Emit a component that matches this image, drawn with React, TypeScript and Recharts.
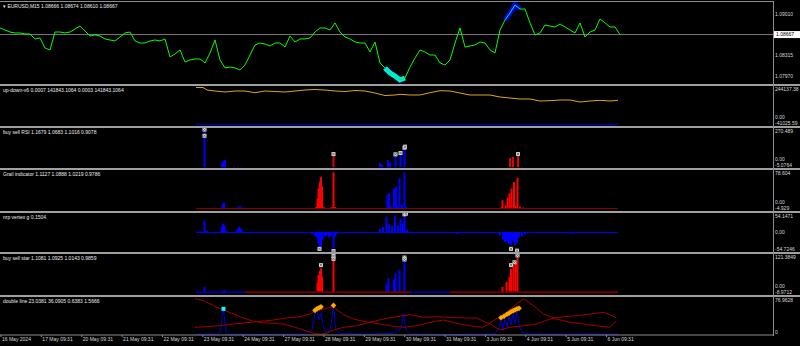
import React from "react";
import { ComposedChart, Line, Bar, Scatter, XAxis, YAxis, ReferenceLine } from "recharts";

// x runs in "slots" of roughly 3 trading hours, the window shows 0..X_MAX
const X_MAX = 154.6;
const FIRST_DAY = 0.2;
const DAY_SLOTS = 8.074;

const dayLabels = [
  "16 May 2024", "17 May 09:31", "20 May 09:31", "21 May 09:31", "22 May 09:31",
  "23 May 09:31", "24 May 09:31", "27 May 09:31", "28 May 09:31", "29 May 09:31",
  "30 May 09:31", "31 May 09:31", "3 Jun 09:31", "4 Jun 09:31", "5 Jun 09:31", "6 Jun 09:31",
];

// EURUSD M15 close, one value per slot
const price = [
  1.08778, 1.08744, 1.0871, 1.08694, 1.08694, 1.08677, 1.08677, 1.08593, 1.08609, 1.08441,
  1.08408, 1.0871, 1.0871, 1.08694, 1.0871, 1.08761, 1.08811, 1.08727, 1.08643, 1.0866,
  1.08643, 1.08593, 1.08576, 1.08559, 1.08626, 1.08694, 1.0871, 1.08559, 1.08525, 1.08525,
  1.08559, 1.08576, 1.08559, 1.08593, 1.0829, 1.0834, 1.08408, 1.08206, 1.08239, 1.08256,
  1.08256, 1.08189, 1.08357, 1.08576, 1.08239, 1.08105, 1.08121, 1.08105, 1.08071, 1.08155,
  1.08323, 1.08492, 1.08525, 1.08508, 1.08475, 1.08525, 1.08525, 1.08458, 1.08643, 1.08542,
  1.08593, 1.08593, 1.08609, 1.0871, 1.08778, 1.08778, 1.08744, 1.08862, 1.0871, 1.08626,
  1.08593, 1.08542, 1.08525, 1.08525, 1.08374, 1.08542, 1.08189, 1.08105, 1.0802, 1.0797,
  1.07903, 1.07936, 1.08121, 1.08273, 1.08408, 1.08374, 1.08323, 1.08323, 1.08189, 1.08155,
  1.08239, 1.08525, 1.08778, 1.08458, 1.08475, 1.08492, 1.08542, 1.08525, 1.08408, 1.08357,
  1.08744, 1.08912, 1.0903, 1.09165, 1.09097, 1.09097, 1.08862, 1.0866, 1.08694, 1.08828,
  1.08811, 1.08795, 1.08845, 1.08795, 1.08744, 1.08694, 1.08862, 1.08626, 1.0871, 1.08744,
  1.08929, 1.08862, 1.08795, 1.08795, 1.08667,
];
const sellZone = [77, 81]; // cyan arrows
const buyZone = [101, 104]; // blue arrows
const lastPrice = 1.08667;
const priceAxis: [number, string][] = [[1.0901, "1.09010"], [1.08315, "1.08315"], [1.0797, "1.07970"]];

type Pt = [number, number];

// up-down-v6
const upDownMain: Pt[] = [
  [39.2, 233443], [40.6, 233443], [41.4, 215621], [43, 208492], [45, 201363], [47, 208492],
  [49, 208492], [51, 196373], [53, 208492], [55, 204928], [57, 201363], [59, 208492],
  [61, 215621], [63, 219186], [65, 215621], [67, 208492], [69, 204928], [71, 212057],
  [73, 208492], [75, 194234], [77, 176412], [79, 179976], [80, 184966], [82, 179976],
  [84, 179976], [86, 196373], [88, 210631], [90, 208492], [92, 194234], [94, 179976],
  [96, 179976], [98, 179976], [100, 165718], [102, 158589], [104, 151460], [106, 151460],
  [108, 137202], [110, 139341], [112, 144331], [114, 144331], [116, 130073], [118, 137202],
  [120, 142192], [122, 137202], [123.6, 141843],
];
const upDownSignal: Pt[] = [[39.2, -30300], [123.6, -30300]];
const upDownAxis: [number, string][] = [[244137.38, "244137.38"], [0, "0.00"], [-41025.59, "-41025.59"]];

// buy sell RSI
const rsiBuy: Pt[] = [
  [40.9, 250], [44.4, 30], [44.7, 45], [45.0, 50], [46.8, 3], [47.6, 3], [48.4, 3],
  [76.0, 29], [76.4, 20], [77.6, 50], [78.0, 30], [79.1, 85], [80.1, 105], [80.9, 126],
];
const rsiSell: Pt[] = [[66.7, 89], [67.1, 2], [102.0, 64], [102.6, 71], [103.6, 89], [104.4, 2]];
const rsiMarks: Pt[] = [
  [40.9, 260], [40.9, 217], [66.7, 91], [79.1, 89], [80.1, 98], [80.9, 135], [81.0, 142], [103.6, 91],
];
const rsiAxis: [number, string][] = [[270.489, "270.489"], [0, "0.00"], [-5.0764, "-5.0764"]];

// Grail indicator
const grailBuy: Pt[] = [
  [44.5, 8], [44.8, 12], [47.5, 3], [48.0, 5], [48.4, 2],
  [77.5, 28], [77.8, 31], [78.2, 5], [78.8, 41], [79.2, 45], [79.5, 6], [79.9, 62], [80.4, 8],
  [80.9, 74], [81.3, 4],
];
const grailSell: Pt[] = [
  [63.2, 3], [63.5, 20], [63.7, 41], [64.0, 55], [64.2, 64], [64.4, 45], [64.7, 4], [66.3, 3],
  [66.7, 74], [67.0, 3], [91.6, 1], [100.3, 3], [100.5, 17], [101.1, 6], [101.5, 22], [101.9, 31],
  [102.3, 41], [102.8, 54], [103.2, 6], [103.5, 63], [104.0, 4], [104.6, 2],
];
const grailBase: Pt[] = [[39.2, 0], [123.6, 0]];
const grailAxis: [number, string][] = [[78.604, "78.604"], [0, "0.00"], [-4.929, "-4.929"]];

// nrp vertex g
const nrpHist: Pt[] = [
  [39.6, 3], [40.2, 2], [40.9, 33], [41.4, 4], [42.2, 2], [44.3, 14], [44.6, 25], [44.9, 20],
  [45.3, 4], [47.4, 8], [47.8, 16], [48.2, 10], [48.6, 3], [50, -1], [55, -1], [60, -2],
  [62.4, -5], [63.0, -10], [63.4, -15], [63.7, -30], [63.9, -44], [64.2, -40], [64.5, -20],
  [65.0, -12], [65.4, -8], [65.8, -14], [66.2, -10], [66.7, -44], [67.0, -12], [67.4, -5],
  [70, -2], [74, -1], [76.0, 10], [76.6, 15], [77.3, 44], [77.8, 22], [78.4, 18], [79.0, 47],
  [79.6, 20], [80.1, 39], [80.6, 25], [80.9, 50], [81.4, 8], [82, 2], [86, -2], [91.4, -4],
  [92, -3], [100.0, -8], [100.6, -20], [101.0, -28], [101.4, -25], [101.8, -32], [102.2, -35],
  [102.6, -25], [103.0, -35], [103.4, -30], [103.8, -15], [104.4, -10], [105.0, -6], [105.6, -3],
  [110, -1], [114.4, -3], [115, -2],
];
const nrpBase: Pt[] = [[39.2, 0], [123.6, 0]];
const nrpMarks: Pt[] = [[80.9, 50.5], [81.2, 52.5], [63.9, -46], [66.7, -52], [102.2, -46], [103.4, -51]];
const nrpAxis: [number, string][] = [[54.1471, "54.1471"], [0, "0.00"], [-54.7246, "-54.7246"]];

// buy sell star
const starBuy: Pt[] = [
  [40.9, 17], [44.6, 5], [44.9, 7], [77.3, 25], [77.7, 44], [78.8, 40], [79.1, 60], [79.9, 70], [80.9, 97],
];
const starSell: Pt[] = [
  [63.5, 30], [63.7, 55], [64.0, 68], [64.2, 76], [64.4, 50], [66.7, 108], [100.5, 17], [101.3, 33],
  [101.9, 49], [102.2, 74], [102.7, 86], [103.1, 92], [103.5, 113],
];
const starMarks: Pt[] = [
  [64.2, 86], [66.7, 115], [66.7, 106], [80.9, 110], [80.9, 104], [102.2, 86], [102.9, 95], [103.5, 117],
];
const starBaseRed: Pt[] = [[49, 0], [82, 0]];
const starBaseRed2: Pt[] = [[90, 0], [123.6, 0]];
const starBaseBlue: Pt[] = [[39.2, 0], [49, 0]];
const starBaseBlue2: Pt[] = [[82, 0], [90, 0]];
const starAxis: [number, string][] = [[121.3849, "121.3849"], [0, "0.00"], [-8.9712, "-8.9712"]];

// double line
const dblRedA: Pt[] = [
  [39, 73.5], [40.7, 69.5], [42.7, 59.3], [44.7, 50.6], [46.7, 42.5], [48.7, 34.4], [50.7, 27.7],
  [52.7, 24.9], [54.7, 23.7], [56.7, 22.3], [58.7, 16.8], [60.7, 10.1], [62.7, 3.4], [64, 1.4],
  [65.3, 3.4], [66.7, 10.1], [68.7, 15.6], [71.3, 18.8], [74, 25.7], [76.7, 32.4], [79.3, 37.1],
  [82, 41.1], [84.7, 35.8], [87.3, 37.1], [90, 35.8], [92.7, 34.4], [95.3, 34.4], [98, 22.3],
  [100, 10.1], [102, 15.6], [104.7, 18.8], [107.3, 22.3], [110, 32.4], [112.7, 37.1], [115.3, 39.1],
  [118, 42.5], [120.7, 46], [122, 41.1], [123.3, 34.4],
];
const dblRedB: Pt[] = [
  [39, 15.6], [41.3, 16.8], [44, 18.8], [46.7, 22.3], [49.3, 24.9], [52, 27.7], [54.7, 30.4],
  [57.3, 34.4], [60, 37.1], [62, 42.5], [63.3, 50.6], [64.7, 52.7], [66.7, 57.3], [68.7, 41.1],
  [70.7, 32.4], [72.7, 27.7], [75.3, 23.7], [78, 18.8], [80.7, 15.6], [83.3, 18.8], [86, 25.7],
  [88.7, 30.4], [91.3, 23.7], [94, 18.8], [96.7, 15.6], [98.7, 29], [101.3, 46], [103.3, 62.8],
  [104.7, 72.9], [106.7, 59.3], [108.7, 42.5], [111.3, 32.4], [114, 25.7], [116.7, 22.3],
  [119.3, 18.8], [122, 15.6], [123.3, 29],
];
const dblBlue: Pt[] = [
  [39.2, 2], [43, 2], [44, 5], [44.7, 52.7], [45.2, 5], [46, 1], [48, 2], [52, 1], [58, 2], [61, 2],
  [62.4, 10], [63, 45], [63.4, 52], [63.8, 30], [64.2, 45], [64.6, 20], [65.2, 5], [66, 8],
  [66.7, 57], [67.2, 10], [68, 3], [72, 2], [79, 3], [79.4, 12], [79.8, 8], [80.2, 15], [80.7, 42],
  [81.2, 10], [82, 2], [90, 1], [99, 2], [99.8, 15], [100.2, 30], [100.6, 10], [101, 35],
  [101.4, 15], [101.8, 38], [102.2, 20], [102.6, 42], [103, 22], [103.4, 48], [103.8, 20],
  [104.4, 5], [106, 2], [123.6, 2],
];
const dblOrange: Pt[] = [
  [63, 50], [63.4, 53], [63.8, 55], [64.2, 57], [66.7, 60], [100.2, 35], [100.8, 38], [101.4, 42],
  [101.8, 44], [102.2, 47], [102.6, 49], [103, 51], [103.4, 53], [103.8, 54],
];
const dblCyan: Pt[] = [[44.7, 53]];
const dblAxis: [number, string][] = [[76.9628, "76.9628"], [0, "0"]];

const FONT = "Liberation Sans, Arial, sans-serif";
const TEXT = "#d8d8d8";
const GRID = "#8c8c8c";

const pts = (list: Pt[]) => list.map(([t, v]) => ({ t, v }));
const histRows = (buy: Pt[], sell: Pt[]) =>
  [...buy.map(([t, v]) => ({ t, buy: v })), ...sell.map(([t, v]) => ({ t, sell: v }))].sort(
    (a, b) => a.t - b.t
  );

const priceRows = price.map((p, i) => ({
  t: i,
  p,
  sell: i >= sellZone[0] && i <= sellZone[1] ? p : null,
  buy: i >= buyZone[0] && i <= buyZone[1] ? p : null,
}));

const dayTicks = dayLabels.map((_, k) => FIRST_DAY + k * DAY_SLOTS);

// MT4 histogram bars: fixed 2px wide, centred on their time
const spike = (color: string) => (p: any) => {
  if (!p.height) return <g />;
  const top = Math.min(p.y, p.y + p.height);
  return <rect x={p.x + p.width / 2 - 1} y={top} width={2} height={Math.abs(p.height)} fill={color} />;
};

const boxMark = (p: any) => (
  <g>
    <rect x={p.cx - 2} y={p.cy - 2} width={4} height={4} fill="#dcdcdc" />
    <path
      d={`M${p.cx - 1.4},${p.cy - 1.4}L${p.cx + 1.4},${p.cy + 1.4}M${p.cx + 1.4},${p.cy - 1.4}L${p.cx - 1.4},${p.cy + 1.4}`}
      stroke="#555"
      strokeWidth={0.8}
    />
  </g>
);
const orangeMark = (p: any) => (
  <rect x={p.cx - 2} y={p.cy - 2} width={4} height={4} fill="#ffa500" transform={`rotate(45 ${p.cx} ${p.cy})`} />
);
const cyanMark = (p: any) => <rect x={p.cx - 2} y={p.cy - 2} width={4} height={4} fill="#00ffff" />;

const YTick = (props: any) => {
  const { x, y, payload, paneH, labels } = props;
  const list = labels as [number, string][];
  const found = list.find((l) => l[0] === payload.value);
  let cy = Math.min(Math.max(y, 3.5), paneH - 3);
  // the zero label sits right on top of the window minimum: lift it clear
  if (payload.value === 0 && list.some((l) => l[0] < 0) && cy > paneH - 9) cy = paneH - 9;
  if (payload.value === lastPrice) {
    return (
      <g>
        <rect x={x - 1} y={y - 3.5} width={28} height={7} fill="#ffffff" />
        <text x={x + 1} y={y} dy="0.35em" fontSize={5} fontFamily={FONT} fill="#000">
          {lastPrice.toFixed(5)}
        </text>
      </g>
    );
  }
  return (
    <text x={x} y={cy} dy="0.35em" fontSize={5} fontFamily={FONT} fill={TEXT} textAnchor="start">
      {found ? found[1] : ""}
    </text>
  );
};

const XTick = (props: any) => {
  const { x, y, index } = props;
  return (
    <text x={x + 1} y={y} dy="0.6em" fontSize={5} fontFamily={FONT} fill={TEXT} textAnchor="start">
      {dayLabels[index]}
    </text>
  );
};

interface PaneProps {
  top: number;
  height: number;
  title: string;
  domain: [number, number];
  axis: [number, string][];
  extraTicks?: number[];
  data?: any[];
  showX?: boolean;
  children?: React.ReactNode;
}

const Pane = ({ top, height, title, domain, axis, extraTicks = [], data, showX, children }: PaneProps) => {
  const chartH = showX ? height + 11 : height;
  return (
    <div style={{ position: "absolute", left: 0, top, width: 800, height: chartH }}>
      <ComposedChart width={800} height={chartH} data={data} margin={{ top: 0, right: 0, bottom: 0, left: 0 }}>
        <XAxis
          type="number"
          dataKey="t"
          domain={[0, X_MAX]}
          allowDataOverflow
          hide={!showX}
          ticks={dayTicks}
          interval={0}
          height={11}
          tickSize={2}
          tickMargin={1}
          axisLine={{ stroke: GRID }}
          tickLine={{ stroke: GRID }}
          tick={<XTick />}
        />
        <YAxis
          orientation="right"
          width={27}
          domain={domain}
          allowDataOverflow
          ticks={[...axis.map((a) => a[0]), ...extraTicks]}
          interval={0}
          axisLine={false}
          tickLine={false}
          tickSize={0}
          tickMargin={2}
          tick={<YTick paneH={height} labels={axis} />}
        />
        {children}
      </ComposedChart>
      <svg width={400} height={9} style={{ position: "absolute", left: 0, top: 0 }}>
        <text x={3} y={4} dy="0.35em" fontSize={5} fontFamily={FONT} fill="#eeeeee">
          {title}
        </text>
      </svg>
    </div>
  );
};

const sepLines = [84, 126, 168, 211, 252, 295];

export default function App() {
  return (
    <div style={{ position: "absolute", left: 0, top: 0, width: 800, height: 346, background: "#000", overflow: "hidden" }}>
      <div style={{ position: "absolute", left: 0, top: 1, width: 773, height: 1, background: GRID }} />
      {sepLines.map((y) => (
        <div key={y} style={{ position: "absolute", left: 0, top: y, width: 800, height: 2, background: "#a0a0a0" }} />
      ))}
      <div style={{ position: "absolute", left: 773, top: 1, width: 1, height: 335, background: GRID }} />

      <Pane
        top={2}
        height={82}
        title={"\u25BE EURUSD,M15  1.08666 1.08674 1.08610 1.08667"}
        domain={[1.07835, 1.09215]}
        axis={priceAxis}
        extraTicks={[lastPrice]}
        data={priceRows}
      >
        <ReferenceLine y={lastPrice} stroke="#7a7a7a" strokeWidth={1} />
        <Line dataKey="sell" stroke="#00e8ff" strokeWidth={5} dot={false} activeDot={false} isAnimationActive={false} />
        <Line dataKey="buy" stroke="#0000ff" strokeWidth={5} dot={false} activeDot={false} isAnimationActive={false} />
        <Line dataKey="p" stroke="#00ff00" strokeWidth={1} dot={false} activeDot={false} isAnimationActive={false} />
      </Pane>

      <Pane
        top={86}
        height={40}
        title="up-down-v6 0.0007 141843.1064 0.0003 141843.1064"
        domain={[-41025.59, 244137.38]}
        axis={upDownAxis}
      >
        <Line data={pts(upDownSignal)} dataKey="v" stroke="#0000a0" strokeWidth={1.5} dot={false} activeDot={false} isAnimationActive={false} />
        <Line data={pts(upDownMain)} dataKey="v" stroke="#daa520" strokeWidth={1} dot={false} activeDot={false} isAnimationActive={false} />
      </Pane>

      <Pane
        top={128}
        height={40}
        title="buy sell RSI 1.1679 1.0683 1.1016 0.9078"
        domain={[-5.0764, 270.489]}
        axis={rsiAxis}
        data={histRows(rsiBuy, rsiSell)}
      >
        <Bar dataKey="buy" stackId="h" fill="#0000ff" shape={spike("#0000ff")} isAnimationActive={false} />
        <Bar dataKey="sell" stackId="h" fill="#e00000" shape={spike("#e00000")} isAnimationActive={false} />
        <Scatter data={pts(rsiMarks)} dataKey="v" shape={boxMark} isAnimationActive={false} />
      </Pane>

      <Pane
        top={170}
        height={41}
        title="Grail indicator 1.1127 1.0888 1.0219 0.9786"
        domain={[-4.929, 78.604]}
        axis={grailAxis}
        data={histRows(grailBuy, grailSell)}
      >
        <Line data={pts(grailBase)} dataKey="v" stroke="#900000" strokeWidth={1} dot={false} activeDot={false} isAnimationActive={false} />
        <Bar dataKey="buy" stackId="h" fill="#0000ff" shape={spike("#0000ff")} isAnimationActive={false} />
        <Bar dataKey="sell" stackId="h" fill="#ff0000" shape={spike("#ff0000")} isAnimationActive={false} />
      </Pane>

      <Pane
        top={213}
        height={39}
        title="nrp vertex g 0.1504"
        domain={[-54.7246, 54.1471]}
        axis={nrpAxis}
        data={histRows(nrpHist, [])}
      >
        <Line data={pts(nrpBase)} dataKey="v" stroke="#0000ff" strokeWidth={1} dot={false} activeDot={false} isAnimationActive={false} />
        <Bar dataKey="buy" fill="#0000ff" shape={spike("#0000ff")} isAnimationActive={false} />
        <Scatter data={pts(nrpMarks)} dataKey="v" shape={boxMark} isAnimationActive={false} />
      </Pane>

      <Pane
        top={254}
        height={41}
        title="buy sell star 1.1081 1.0925 1.0143 0.9859"
        domain={[-8.9712, 121.3849]}
        axis={starAxis}
        data={histRows(starBuy, starSell)}
      >
        <Line data={pts(starBaseBlue)} dataKey="v" stroke="#000090" strokeWidth={2} dot={false} activeDot={false} isAnimationActive={false} />
        <Line data={pts(starBaseBlue2)} dataKey="v" stroke="#000090" strokeWidth={2} dot={false} activeDot={false} isAnimationActive={false} />
        <Line data={pts(starBaseRed)} dataKey="v" stroke="#700000" strokeWidth={2} dot={false} activeDot={false} isAnimationActive={false} />
        <Line data={pts(starBaseRed2)} dataKey="v" stroke="#700000" strokeWidth={2} dot={false} activeDot={false} isAnimationActive={false} />
        <Bar dataKey="buy" stackId="h" fill="#0000ff" shape={spike("#0000ff")} isAnimationActive={false} />
        <Bar dataKey="sell" stackId="h" fill="#ff0000" shape={spike("#ff0000")} isAnimationActive={false} />
        <Scatter data={pts(starMarks)} dataKey="v" shape={boxMark} isAnimationActive={false} />
      </Pane>

      <Pane
        top={297}
        height={38}
        title="double line 23.0381 36.0905 0.6383 1.5666"
        domain={[0, 76.9628]}
        axis={dblAxis}
        showX
      >
        <Line data={pts(dblBlue)} dataKey="v" stroke="#0000c8" strokeWidth={1} dot={false} activeDot={false} isAnimationActive={false} />
        <Line data={pts(dblRedA)} dataKey="v" stroke="#a00000" strokeWidth={1} dot={false} activeDot={false} isAnimationActive={false} />
        <Line data={pts(dblRedB)} dataKey="v" stroke="#a00000" strokeWidth={1} dot={false} activeDot={false} isAnimationActive={false} />
        <Scatter data={pts(dblOrange)} dataKey="v" shape={orangeMark} isAnimationActive={false} />
        <Scatter data={pts(dblCyan)} dataKey="v" shape={cyanMark} isAnimationActive={false} />
      </Pane>
    </div>
  );
}
